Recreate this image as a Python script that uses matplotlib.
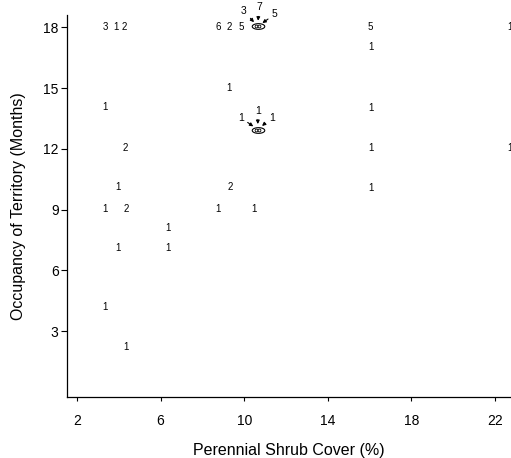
import matplotlib
matplotlib.use("Agg")
import matplotlib.pyplot as plt
import numpy as np
from matplotlib.path import Path

# ---- data: (shrub cover %, occupancy months, count label) ----
pt_x = [3.34, 3.87, 4.28, 8.75, 9.29, 9.85, 16.03, 22.7,
        9.28, 16.05, 3.34, 16.05, 4.33, 16.05, 22.7,
        3.95, 9.33, 16.05, 3.34, 4.36, 8.75, 10.47,
        6.36, 3.95, 6.36, 3.34, 4.33]
pt_y = [18.0, 18.0, 18.0, 18.0, 18.0, 18.0, 18.0, 18.0,
        15.0, 17.05, 14.05, 14.0, 12.05, 12.05, 12.05,
        10.1, 10.1, 10.05, 9.05, 9.05, 9.05, 9.05,
        8.1, 7.1, 7.1, 4.2, 2.2]
pt_lab = ["3", "1", "2", "6", "2", "5", "5", "1",
          "1", "1", "1", "1", "2", "1", "1",
          "1", "2", "1", "1", "2", "1", "1",
          "1", "1", "1", "1", "1"]

# clustered points shown with circles and arrows
cl_x = [10.65, 10.65]
cl_y = [18.05, 12.95]
cl_labels = [["3", "7", "5"], ["1", "1", "1"]]
cl_offsets = [[(-14, 15), (1, 19), (17, 12)],
              [(-17, 12), (0, 19), (14, 12)]]

x_ticks = [2, 6, 10, 14, 18, 22]
y_ticks = [3, 6, 9, 12, 15, 18]

plt.rcParams['font.family'] = ['Liberation Sans', 'DejaVu Sans']

fig = plt.figure(figsize=(5.11, 4.58), dpi=100)
ax = fig.add_axes([0.131, 0.133, 0.869, 0.834])

for x, y, s in zip(pt_x, pt_y, pt_lab):
    ax.text(x, y, s, ha='center', va='center', fontsize=7, color='black')

# elliptical cluster marker
t = np.linspace(0, 2 * np.pi, 60)
ell = Path(np.column_stack([np.cos(t) * 2.2, np.sin(t)]), closed=True)

for x, y, labs, offs in zip(cl_x, cl_y, cl_labels, cl_offsets):
    ax.plot([x], [y], marker=ell, ms=9, mfc='white', mec='black', mew=0.8,
            ls='none')
    ax.plot([x - 0.08, x + 0.08], [y, y], 'o', ms=2.0, mfc='white',
            mec='black', mew=0.6, ls='none')
    for s, (dx, dy) in zip(labs, offs):
        ax.annotate(s, xy=(x, y), xytext=(dx, dy), textcoords='offset pixels',
                    ha='center', va='center', fontsize=7.5,
                    arrowprops=dict(arrowstyle='-|>', color='black', lw=0.8,
                                    mutation_scale=5, shrinkA=1, shrinkB=4))

ax.set_xlim(1.52, 22.76)
ax.set_ylim(-0.25, 18.6)
ax.set_xticks(x_ticks)
ax.set_yticks(y_ticks)
ax.tick_params(axis='x', direction='out', length=3, width=0.8, labelsize=10,
               pad=9)
ax.tick_params(axis='y', direction='out', length=4, width=0.8, labelsize=10,
               pad=2)
ax.spines['top'].set_visible(False)
ax.spines['right'].set_visible(False)
for sp in ('left', 'bottom'):
    ax.spines[sp].set_linewidth(0.9)

ax.set_xlabel('Perennial Shrub Cover (%)', fontsize=11.5, labelpad=11)
ax.set_ylabel('Occupancy of Territory (Months)', fontsize=11.5, labelpad=12)

fig.savefig('out.png', dpi=100)
